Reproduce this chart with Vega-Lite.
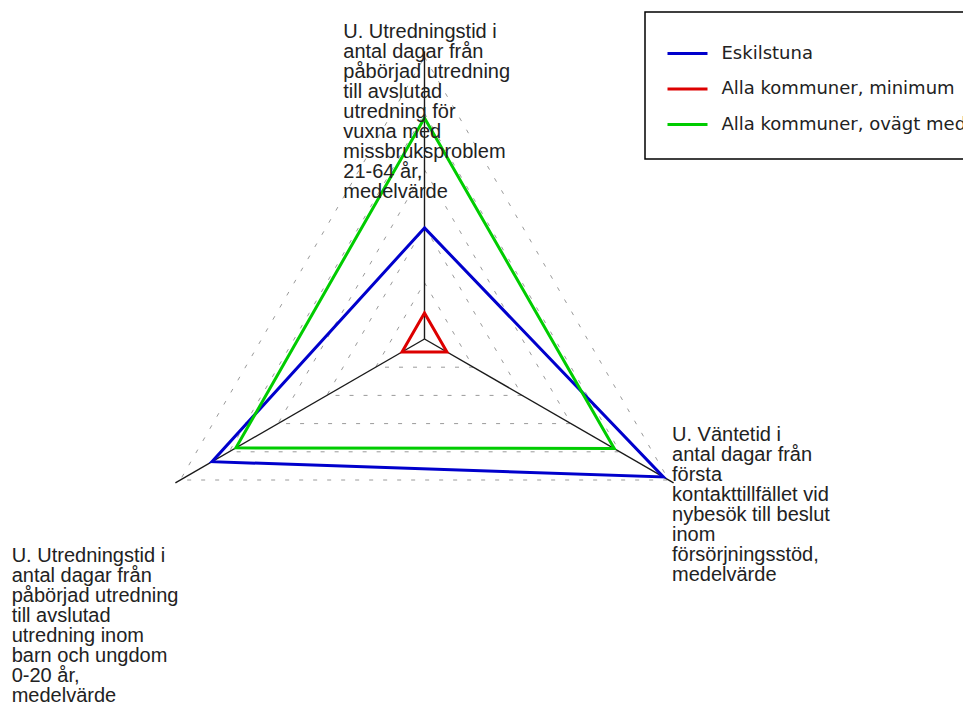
{
  "$schema": "https://vega.github.io/schema/vega-lite/v6.json",
  "width": 963,
  "height": 706,
  "autosize": {"type": "none"},
  "padding": 0,
  "background": "white",
  "config": {"view": {"stroke": null}},
  "datasets": {
    "axes": [
      {"axis": "vuxna", "idx": 0, "label": ["U. Utredningstid i", "antal dagar från", "påbörjad utredning", "till avslutad", "utredning för", "vuxna med", "missbruksproblem", "21-64 år,", "medelvärde"]},
      {"axis": "forsorjning", "idx": 1, "label": ["U. Väntetid i", "antal dagar från", "första", "kontakttillfället vid", "nybesök till beslut", "inom", "försörjningsstöd,", "medelvärde"]},
      {"axis": "barn", "idx": 2, "label": ["U. Utredningstid i", "antal dagar från", "påbörjad utredning", "till avslutad", "utredning inom", "barn och ungdom", "0-20 år,", "medelvärde"]}
    ],
    "grid": [
      {"level": 20, "axis": "vuxna"}, {"level": 20, "axis": "forsorjning"}, {"level": 20, "axis": "barn"},
      {"level": 40, "axis": "vuxna"}, {"level": 40, "axis": "forsorjning"}, {"level": 40, "axis": "barn"},
      {"level": 60, "axis": "vuxna"}, {"level": 60, "axis": "forsorjning"}, {"level": 60, "axis": "barn"},
      {"level": 80, "axis": "vuxna"}, {"level": 80, "axis": "forsorjning"}, {"level": 80, "axis": "barn"},
      {"level": 100, "axis": "vuxna"}, {"level": 100, "axis": "forsorjning"}, {"level": 100, "axis": "barn"}
    ],
    "series": [
      {"series": "Eskilstuna", "axis": "vuxna", "value": 39.4},
      {"series": "Eskilstuna", "axis": "forsorjning", "value": 97.8},
      {"series": "Eskilstuna", "axis": "barn", "value": 87.0},
      {"series": "Alla kommuner, minimum", "axis": "vuxna", "value": 9.2},
      {"series": "Alla kommuner, minimum", "axis": "forsorjning", "value": 9.2},
      {"series": "Alla kommuner, minimum", "axis": "barn", "value": 9.2},
      {"series": "Alla kommuner, ovägt medelvärde", "axis": "vuxna", "value": 78.4},
      {"series": "Alla kommuner, ovägt medelvärde", "axis": "forsorjning", "value": 77.7},
      {"series": "Alla kommuner, ovägt medelvärde", "axis": "barn", "value": 77.2}
    ]
  },
  "layer": [
    {
      "data": {"name": "grid"},
      "transform": [
        {"lookup": "axis", "from": {"data": {"name": "axes"}, "key": "axis", "fields": ["idx"]}},
        {"calculate": "datum.idx * 2 * PI / 3", "as": "angle"},
        {"calculate": "datum.level * sin(datum.angle)", "as": "px"},
        {"calculate": "datum.level * cos(datum.angle)", "as": "py"}
      ],
      "mark": {"type": "line", "interpolate": "linear-closed", "color": "#9a9a9a", "strokeWidth": 1, "strokeDash": [4, 10]},
      "encoding": {
        "x": {"field": "px", "type": "quantitative", "axis": null, "scale": {"domain": [-150.53, 190.96], "nice": false, "zero": false}},
        "y": {"field": "py", "type": "quantitative", "axis": null, "scale": {"domain": [-130.14, 120.21], "nice": false, "zero": false}},
        "detail": {"field": "level", "type": "nominal"},
        "order": {"field": "idx", "type": "quantitative"}
      }
    },
    {
      "data": {"name": "axes"},
      "transform": [
        {"calculate": "datum.idx * 2 * PI / 3", "as": "angle"},
        {"calculate": "102 * sin(datum.angle)", "as": "px"},
        {"calculate": "102 * cos(datum.angle)", "as": "py"}
      ],
      "mark": {"type": "rule", "color": "#1a1a1a", "strokeWidth": 1.4},
      "encoding": {
        "x": {"field": "px", "type": "quantitative"},
        "y": {"field": "py", "type": "quantitative"},
        "x2": {"datum": 0},
        "y2": {"datum": 0}
      }
    },
    {
      "data": {"name": "series"},
      "transform": [
        {"lookup": "axis", "from": {"data": {"name": "axes"}, "key": "axis", "fields": ["idx"]}},
        {"calculate": "datum.idx * 2 * PI / 3", "as": "angle"},
        {"calculate": "datum.value * sin(datum.angle)", "as": "px"},
        {"calculate": "datum.value * cos(datum.angle)", "as": "py"}
      ],
      "mark": {"type": "line", "interpolate": "linear-closed", "strokeWidth": 3, "strokeJoin": "miter"},
      "encoding": {
        "x": {"field": "px", "type": "quantitative"},
        "y": {"field": "py", "type": "quantitative"},
        "order": {"field": "idx", "type": "quantitative"},
        "color": {
          "field": "series", "type": "nominal",
          "scale": {"domain": ["Eskilstuna", "Alla kommuner, minimum", "Alla kommuner, ovägt medelvärde"], "range": ["#0000cc", "#dd0000", "#00cc00"]},
          "sort": null,
          "legend": {
            "orient": "none", "legendX": 645, "legendY": 12, "title": " ",
            "titleFontSize": 1, "titlePadding": 4,
            "strokeColor": "#000", "fillColor": "white", "padding": 25,
            "symbolType": "M-2,0H2", "symbolSize": 400, "symbolStrokeWidth": 3,
            "symbolOffset": 6,
            "labelFont": "DejaVu Sans", "labelFontSize": 18, "labelColor": "#222",
            "labelOffset": 22.5, "rowPadding": 14.5, "labelLimit": 0,
            "encode": {"legend": {"update": {"strokeWidth": {"value": 1.5}}}}
          }
        }
      }
    },
    {
      "data": {"name": "axes"},
      "transform": [
        {"filter": "datum.idx == 0"},
        {"calculate": "100 * sin(datum.idx * 2 * PI / 3)", "as": "px"},
        {"calculate": "100 * cos(datum.idx * 2 * PI / 3)", "as": "py"}
      ],
      "mark": {"type": "text", "align": "left", "baseline": "alphabetic", "font": "Liberation Sans", "fontSize": 20, "lineHeight": 20, "color": "#222", "dx": -81.2, "dy": -18.7},
      "encoding": {
        "x": {"field": "px", "type": "quantitative"},
        "y": {"field": "py", "type": "quantitative"},
        "text": {"field": "label", "type": "nominal"}
      }
    },
    {
      "data": {"name": "axes"},
      "transform": [
        {"filter": "datum.idx == 1"},
        {"calculate": "100 * sin(datum.idx * 2 * PI / 3)", "as": "px"},
        {"calculate": "100 * cos(datum.idx * 2 * PI / 3)", "as": "py"}
      ],
      "mark": {"type": "text", "align": "left", "baseline": "alphabetic", "font": "Liberation Sans", "fontSize": 20, "lineHeight": 20, "color": "#222", "dx": 3.3, "dy": -39},
      "encoding": {
        "x": {"field": "px", "type": "quantitative"},
        "y": {"field": "py", "type": "quantitative"},
        "text": {"field": "label", "type": "nominal"}
      }
    },
    {
      "data": {"name": "axes"},
      "transform": [
        {"filter": "datum.idx == 2"},
        {"calculate": "100 * sin(datum.idx * 2 * PI / 3)", "as": "px"},
        {"calculate": "100 * cos(datum.idx * 2 * PI / 3)", "as": "py"}
      ],
      "mark": {"type": "text", "align": "left", "baseline": "alphabetic", "font": "Liberation Sans", "fontSize": 20, "lineHeight": 20, "color": "#222", "dx": -168.6, "dy": 81.7},
      "encoding": {
        "x": {"field": "px", "type": "quantitative"},
        "y": {"field": "py", "type": "quantitative"},
        "text": {"field": "label", "type": "nominal"}
      }
    }
  ]
}
